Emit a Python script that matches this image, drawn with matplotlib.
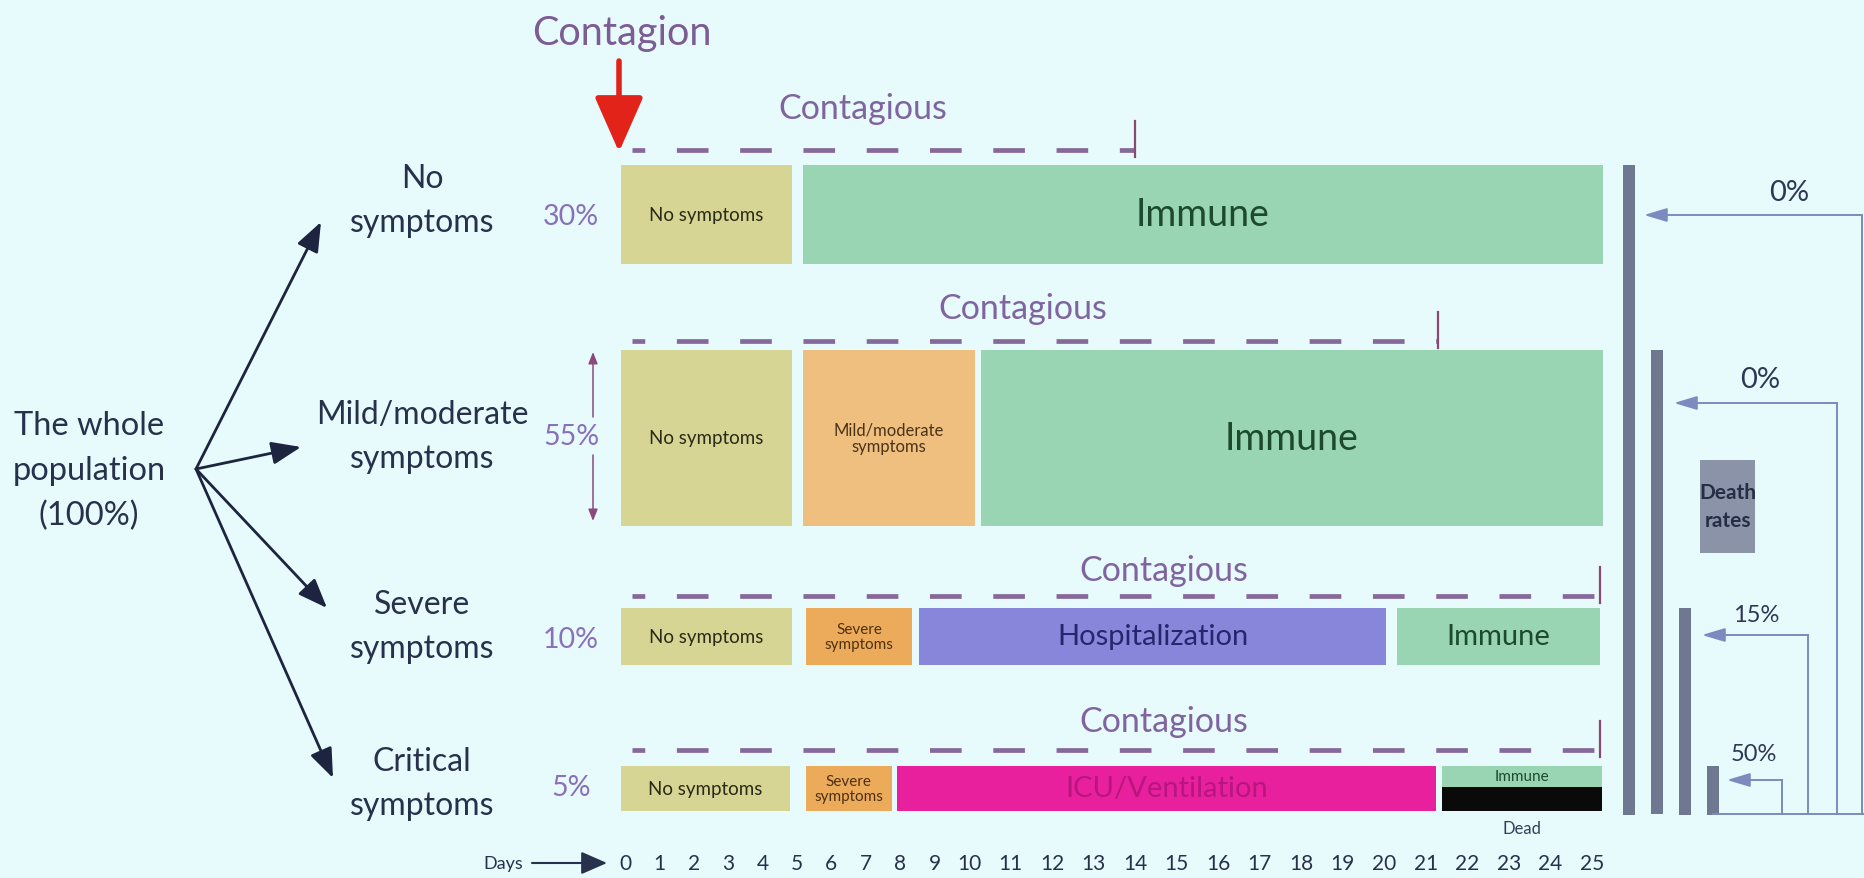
import numpy as np
import matplotlib.pyplot as plt
from matplotlib.patches import Rectangle

plt.rcParams['font.family'] = ['Lato', 'DejaVu Sans']

W, H = 1864, 879
BG = '#e7fafc'

#%% Data

days = list(range(26))

groups = ['No\nsymptoms', 'Mild/moderate\nsymptoms', 'Severe\nsymptoms', 'Critical\nsymptoms']
shares = ['30%', '55%', '10%', '5%']
death_rates = ['0%', '0%', '15%', '50%']
contagious_until = [14.0, 21.3, 25.2, 25.2]

# (label, start day, end day, colour key) for each group
row1 = [('No symptoms', -0.13, 4.85, 'none'),
        ('Immune', 5.16, 25.27, 'immune')]
row2 = [('No symptoms', -0.13, 4.85, 'none'),
        ('Mild/moderate\nsymptoms', 5.16, 10.14, 'mild'),
        ('Immune', 10.28, 25.27, 'immune')]
row3 = [('No symptoms', -0.13, 4.85, 'none'),
        ('Severe\nsymptoms', 5.26, 8.34, 'severe'),
        ('Hospitalization', 8.55, 20.04, 'hosp'),
        ('Immune', 20.3, 25.2, 'immune')]
row4 = [('No symptoms', -0.13, 4.81, 'none'),
        ('Severe\nsymptoms', 5.26, 7.75, 'severe'),
        ('ICU/Ventilation', 7.92, 21.24, 'icu'),
        ('Immune', 21.38, 25.24, 'immune'),
        ('Dead', 21.38, 25.24, 'dead')]
rows = [row1, row2, row3, row4]

#%% Style / layout

colors = {'none': '#d6d594', 'immune': '#9ad5b3', 'mild': '#efbf80',
          'severe': '#ecab5a', 'hosp': '#8886da', 'icu': '#e8209e',
          'dead': '#0a0a0a'}
txtcol = {'none': '#2a2a18', 'immune': '#1d4a2e', 'mild': '#4a3318',
          'severe': '#4e3010', 'hosp': '#25276e', 'icu': '#b8157f',
          'dead': '#1a2030'}
dark = '#27314c'
purple = '#8064a0'
dash_col = '#86689a'

row_top = [166, 351, 609, 767]
row_bot = [265, 527, 666, 812]
dash_y = [151, 342, 597, 751]
cont_x = [6.9, 11.3, 14.7, 14.7]
cont_y = [109, 309, 571, 722]
big_font = [27, 27, 21, 21]

# the slide spaces its day numbers unevenly: narrower for 0-9 than for 10-25
KD = [-40, 0, 10, 25, 70]
KP = [625 - 40 * 34.4, 625, 969, 1592, 1592 + 45 * 41.53]


def fwd(d):
    return np.interp(d, KD, KP)


def inv(p):
    return np.interp(p, KP, KD)


fig = plt.figure(figsize=(W / 100, H / 100), dpi=100, facecolor=BG)
ax = fig.add_axes([0, 0, 1, 1])
ax.set_xlim(0, W)
ax.set_ylim(H, 0)
ax.axis('off')

tl = fig.add_axes([0, 0, 1, 1])
tl.set_xscale('function', functions=(fwd, inv))
tl.set_xlim(inv(0.0), inv(float(W)))
tl.set_ylim(H, 0)
tl.axis('off')

#%% Timeline boxes

for i, row in enumerate(rows):
    top, bot = row_top[i], row_bot[i]
    for lab, a, b, key in row:
        y0, y1 = top, bot
        if i == 3 and key == 'immune':
            y1 = 788
        if key == 'dead':
            y0 = 788
        tl.add_patch(Rectangle((a, y0), b - a, y1 - y0, facecolor=colors[key],
                               edgecolor='none'))
        xm = inv((fwd(a) + fwd(b)) / 2)
        if key == 'dead':
            tl.text(xm, 829, lab, ha='center', va='center', fontsize=12, color='#33405c')
            continue
        if key in ('none',):
            fs = 13.5
        elif key in ('mild',):
            fs = 12
        elif key == 'severe':
            fs = 11
        elif i == 3 and key == 'immune':
            fs = 11
        else:
            fs = big_font[i]
        tl.text(xm, (y0 + y1) / 2, lab, ha='center', va='center', fontsize=fs,
                color=txtcol[key], linespacing=1.05)

    # contagious period
    tl.plot([0.2, contagious_until[i]], [dash_y[i], dash_y[i]], color=dash_col,
            lw=3.4, ls=(4.0, (6.7, 6.7)), solid_capstyle='butt')
    tl.plot([contagious_until[i]] * 2, [dash_y[i] - 29, dash_y[i] + 7],
            color='#8a4a70', lw=1.6)
    tl.text(cont_x[i], cont_y[i], 'Contagious', ha='center', va='center',
            fontsize=24.5, color=purple)

# day numbers
for d in days:
    tl.text(d, 864, str(d), ha='center', va='center', fontsize=15, color=dark)

tl.text(-0.1, 34, 'Contagion', ha='center', va='center', fontsize=28.5, color='#7c5c94')
ax.annotate('', xy=(619, 153), xytext=(619, 62),
            arrowprops=dict(arrowstyle='-|>,head_length=1.7,head_width=0.75',
                            mutation_scale=20, lw=4, color='#e2231a',
                            shrinkA=0, shrinkB=0))

ax.text(503, 864, 'Days', ha='center', va='center', fontsize=13, color=dark)
ax.annotate('', xy=(607, 864), xytext=(532, 864),
            arrowprops=dict(arrowstyle='-|>,head_length=0.8,head_width=0.35',
                            mutation_scale=20, lw=1.5, color=dark,
                            shrinkA=0, shrinkB=0))

#%% Left tree

ax.text(89, 471, 'The whole\npopulation\n(100%)', ha='center', va='center',
        fontsize=23.5, color=dark, linespacing=1.6)
targets = [(321, 223), (301, 448), (327, 609), (333, 779)]
for tx, ty in targets:
    ax.annotate('', xy=(tx, ty), xytext=(196, 470),
                arrowprops=dict(arrowstyle='-|>,head_length=0.9,head_width=0.35',
                                mutation_scale=20, lw=2, color='#1c2440',
                                shrinkA=0, shrinkB=0))

group_y = [201, 437, 627, 784]
for g, y in zip(groups, group_y):
    ax.text(422, y, g, ha='center', va='center', fontsize=23, color=dark,
            linespacing=1.62)
share_y = [217, 437, 640, 788]
for s, y in zip(shares, share_y):
    ax.text(571, y, s, ha='center', va='center', fontsize=20.5, color='#8a70b8')

# 55% span arrows
for ya, yb in [(418, 353), (456, 522)]:
    ax.annotate('', xy=(593, yb), xytext=(593, ya),
                arrowprops=dict(arrowstyle='-|>,head_length=0.5,head_width=0.2',
                                mutation_scale=14, lw=1.1, color='#8a4a80',
                                shrinkA=0, shrinkB=0))

#%% Death rates (right)

bar_x = [1629, 1657, 1685, 1712.5]
base = 815.5
ax.bar(bar_x, [base - t for t in row_top], bottom=row_top, width=12,
       color='#6e7890')

arr_col = '#7b8bbf'
arr_y = [216, 404, 636, 781]
arr_vx = [1862, 1837, 1808, 1782]
arr_tip = [1644, 1674, 1702, 1727]
lab_xy = [(1789, 193), (1760, 380), (1756, 616), (1754, 755)]
lab_fs = [21, 21, 17, 17]
for i in range(4):
    ax.plot([arr_vx[i], arr_vx[i]], [base, arr_y[i]], color=arr_col, lw=1.4)
    ax.annotate('', xy=(arr_tip[i], arr_y[i]), xytext=(arr_vx[i], arr_y[i]),
                arrowprops=dict(arrowstyle='-|>,head_length=1.0,head_width=0.3',
                                mutation_scale=14, lw=1.4, color=arr_col,
                                shrinkA=0, shrinkB=0))
    ax.text(lab_xy[i][0], lab_xy[i][1], death_rates[i], ha='center', va='center',
            fontsize=lab_fs[i], color='#2e3856')
ax.plot([bar_x[3], W], [base, base], color=arr_col, lw=1.4)

ax.add_patch(Rectangle((1700, 461), 55, 93, facecolor='#8b93a9', edgecolor='none'))
ax.text(1727.5, 507, 'Death\nrates', ha='center', va='center', fontsize=15,
        fontweight='bold', color='#262d45', linespacing=1.5)

fig.savefig('out.png', dpi=100, facecolor=BG)
